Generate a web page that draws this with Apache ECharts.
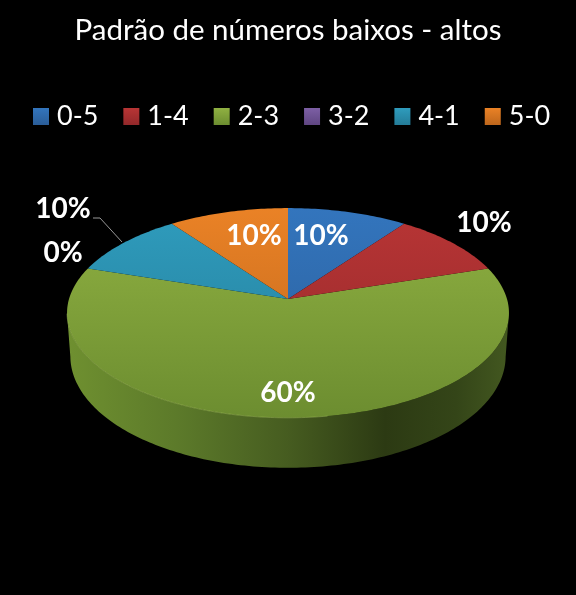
<!DOCTYPE html>
<html><head><meta charset="utf-8">
<style>html,body{margin:0;padding:0;background:#000}#c{width:576px;height:595px}</style>
<script src="https://cdn.jsdelivr.net/npm/echarts@6/dist/echarts.min.js"></script>
</head><body><div id="c"></div>
<script>
const chartTitle = 'Padrão de números baixos - altos';
const categories = ['0-5','1-4','2-3','3-2','4-1','5-0'];
const shares = [10,10,60,0,10,10];
const faceTop = ['#3375bd','#b83535','#90b142','#7d5fa5','#2f9cbd','#ea8226'];
const faceBottom = ['#2a5d98','#93282a','#6c8d30','#5f4682','#247c98','#bd661c'];

const view = {ax:288, ay:299, A:219, B:103, k:0.133};
const labelAt = [[321,236],[484,223],[288,393],[63,253],[63,209],[254,236]];
const total = shares.reduce((a,b)=>a+b,0);

function project(deg){
  const t = deg*Math.PI/180, X = Math.sin(t), Y = Math.cos(t), w = 1 + view.k*Y;
  return {x:view.ax + view.A*X/w, y:view.ay - view.B*Y/w, Y};
}
function startAngle(i){ return shares.slice(0,i).reduce((a,b)=>a+b,0)/total*360; }
function linear(x,y,x2,y2,stops){
  return {type:'linear',x,y,x2,y2,global:true,colorStops:stops.map(s=>({offset:s[0],color:s[1]}))};
}
const wallFill = linear(67,0,509,0,[[0,'#6f9030'],[0.25,'#5c7a2a'],[0.5,'#465c20'],[0.72,'#2c3a13'],[0.88,'#344518'],[1,'#435820']]);

function renderSlice(i){
  return function(){
    const a0 = startAngle(i), a1 = a0 + shares[i]/total*360;
    const children = [];
    const rim = [];
    const n = Math.max(2, Math.ceil(a1-a0));
    for(let s=0;s<=n;s++) rim.push(project(a0+(a1-a0)*s/n));
    const low = rim.filter(p=>p.Y<=-view.k);
    if(low.length>1){
      const lower = low.map(p=>[view.ax+(p.x-view.ax)*0.985, p.y+42+8*Math.max(0,-p.Y)]).reverse();
      children.push({type:'polygon',shape:{points:low.map(p=>[p.x,p.y]).concat(lower)},
        style:{fill:wallFill,stroke:null}});
    }
    if(shares[i]>0){
      children.push({type:'polygon',
        shape:{points:[[view.ax,view.ay]].concat(rim.map(p=>[p.x,p.y]))},
        style:{fill:linear(0,208,0,418,[[0,faceTop[i]],[1,faceBottom[i]]]),stroke:null}});
    }
    if(low.length>1){
      children.push({type:'polyline',shape:{points:low.filter(p=>p.x<view.ax+40).map(p=>[p.x,p.y])},
        style:{fill:null,stroke:'#a5c25c',lineWidth:0.8,opacity:0.6}});
    }
    if(categories[i]==='4-1'){
      children.push({type:'polyline',shape:{points:[[93,218],[100,218],[122,242]]},
        style:{fill:null,stroke:'#bfbfbf',lineWidth:0.8}});
    }
    children.push({type:'text',x:labelAt[i][0],y:labelAt[i][1],z2:10,
      style:{text:Math.round(shares[i]/total*100)+'%',fill:'#fff',align:'center',verticalAlign:'middle',
        font:'bold 28px Lato, sans-serif'}});
    return {type:'group',children};
  };
}

const chart = echarts.init(document.getElementById('c'),null,{renderer:'canvas'});
chart.setOption({
  backgroundColor:'#000',
  animation:false,
  title:{text:chartTitle,left:'center',top:10,textStyle:{color:'#fff',fontSize:29.5,fontWeight:'normal',fontFamily:'Lato, sans-serif'}},
  legend:{
    left:28,top:98,itemWidth:16,itemHeight:17,itemGap:25,icon:'rect',
    textStyle:{color:'#fff',fontSize:27,fontFamily:'Lato, sans-serif',padding:[0,0,0,3]},
    data:categories.map((c,i)=>({name:c,itemStyle:{
      color:{type:'linear',x:0,y:0,x2:0,y2:1,colorStops:[{offset:0,color:faceTop[i]},{offset:1,color:faceBottom[i]}]}}}))
  },
  series:categories.map((c,i)=>({
    type:'custom',name:c,coordinateSystem:'none',silent:true,
    itemStyle:{color:faceTop[i]},
    z:i===2?1:2,
    data:[[shares[i]]],
    renderItem:renderSlice(i)
  }))
});
</script></body></html>
